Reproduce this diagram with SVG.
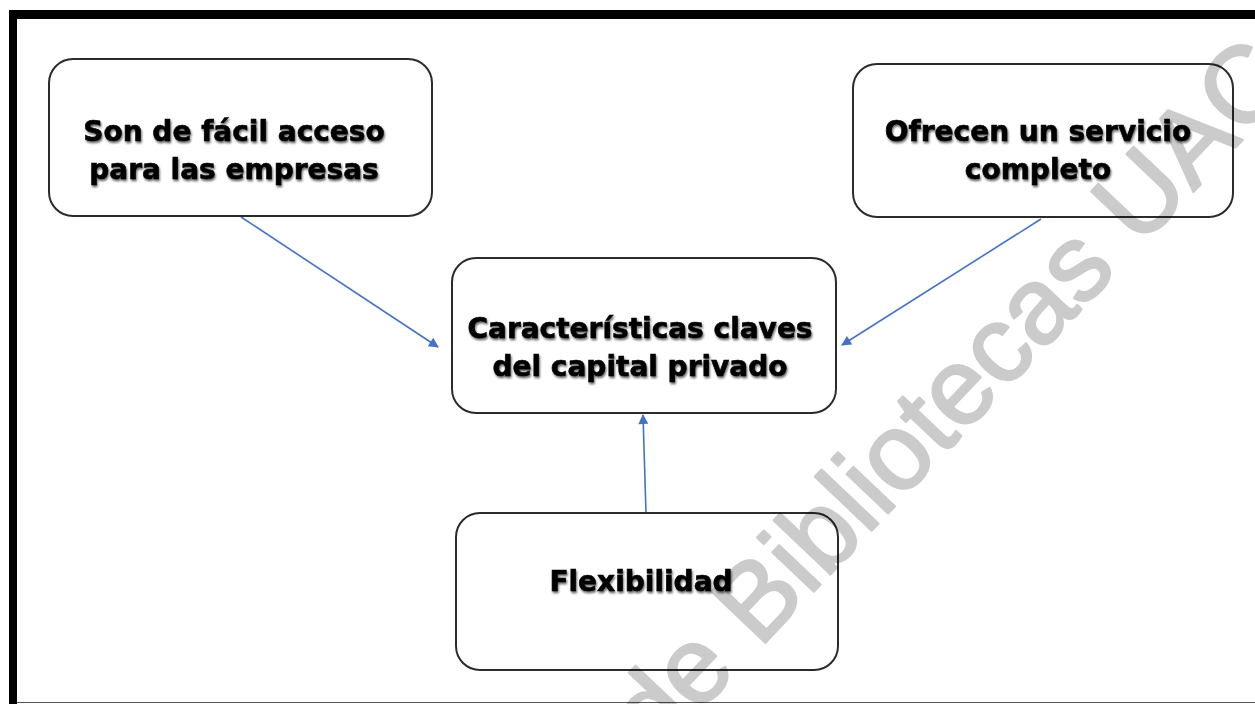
<svg xmlns="http://www.w3.org/2000/svg" width="1255" height="704" viewBox="0 0 1255 704">
  <style>
    .box { fill: #ffffff; stroke: #2b2b2b; stroke-width: 2; }
    .label { font-family: "DejaVu Sans", Verdana, sans-serif; font-weight: bold; font-size: 28px; fill: #000000; stroke: #000000; stroke-width: 0.6; text-anchor: middle; filter: url(#soft); }
    .link { stroke: #4472c4; stroke-width: 1.6; fill: none; marker-end: url(#arrow); }
    .mark { font-family: "Liberation Sans", Arial, sans-serif; font-size: 108px; fill: #000000; stroke: #000000; stroke-width: 2.5; stroke-linejoin: round; }
  </style>
  <defs>
    <marker id="arrow" viewBox="0 0 10 10" refX="9" refY="5" markerWidth="12" markerHeight="10" markerUnits="userSpaceOnUse" orient="auto">
      <path d="M0,0 L10,5 L0,10 z" fill="#4472c4"/>
    </marker>
    <filter id="soft" x="-10%" y="-30%" width="120%" height="160%">
      <feGaussianBlur in="SourceAlpha" stdDeviation="1.3" result="b"/>
      <feOffset in="b" dx="1" dy="1.5" result="o"/>
      <feComponentTransfer in="o" result="s">
        <feFuncA type="linear" slope="0.6"/>
      </feComponentTransfer>
      <feGaussianBlur in="SourceGraphic" stdDeviation="0.45" result="t"/>
      <feMerge>
        <feMergeNode in="s"/>
        <feMergeNode in="t"/>
      </feMerge>
    </filter>
  </defs>

  <rect x="0" y="0" width="1255" height="704" fill="#ffffff"/>

  <!-- page frame -->
  <g id="frame">
    <rect x="9" y="10" width="1246" height="9" fill="#000000"/>
    <rect x="9" y="10" width="8" height="694" fill="#000000"/>
    <line x1="17" y1="702.5" x2="1255" y2="702.5" stroke="#555555" stroke-width="1.2"/>
  </g>

  <!-- connectors -->
  <g id="connectors">
    <line class="link" x1="241" y1="217" x2="438" y2="347"/>
    <line class="link" x1="1041" y1="219" x2="842" y2="345"/>
    <line class="link" x1="646" y1="513" x2="643" y2="415"/>
  </g>

  <!-- nodes -->
  <g id="node-acceso">
    <rect class="box" x="49" y="59" width="383" height="157" rx="24"/>
    <text class="label" x="234" y="141">Son de fácil acceso</text>
    <text class="label" x="234" y="179">para las empresas</text>
  </g>

  <g id="node-servicio">
    <rect class="box" x="853" y="64" width="380" height="153" rx="24"/>
    <text class="label" x="1038" y="141">Ofrecen un servicio</text>
    <text class="label" x="1038" y="179">completo</text>
  </g>

  <g id="node-central">
    <rect class="box" x="452" y="258" width="384" height="155" rx="24"/>
    <text class="label" x="640" y="338">Características claves</text>
    <text class="label" x="640" y="376">del capital privado</text>
  </g>

  <g id="node-flexibilidad">
    <rect class="box" x="456" y="513" width="382" height="157" rx="24"/>
    <text class="label" x="641" y="591">Flexibilidad</text>
  </g>

  <!-- library watermark, composited as one translucent layer -->
  <g id="watermark" opacity="0.2">
    <text class="mark" transform="translate(656,758) rotate(-46.5)">de Bibliotecas UAC</text>
  </g>
</svg>
